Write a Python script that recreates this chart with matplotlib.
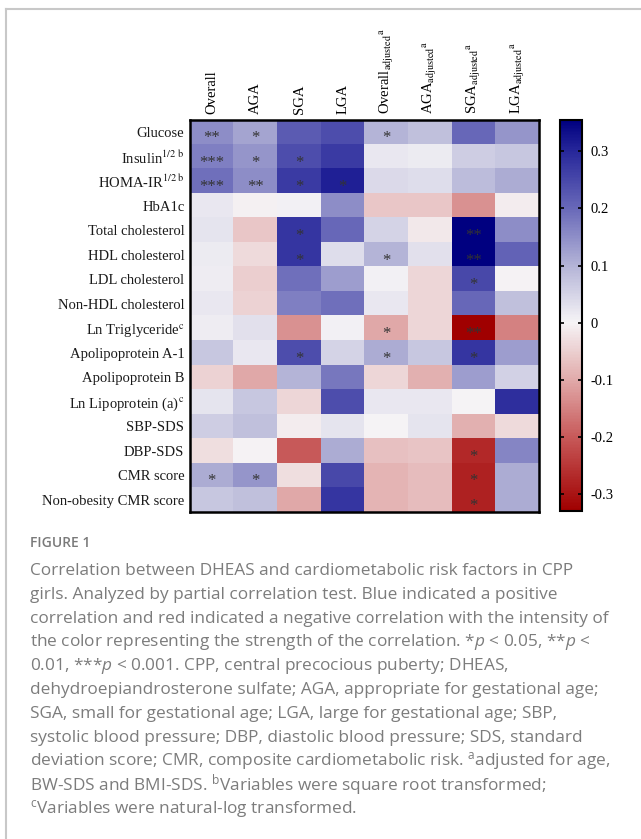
import numpy as np
import matplotlib.pyplot as plt
from matplotlib.colors import LinearSegmentedColormap, Normalize
from matplotlib.lines import Line2D

plt.rcParams['font.family'] = ['Liberation Serif', 'DejaVu Serif']
plt.rcParams['axes.unicode_minus'] = False
plt.rcParams['mathtext.fontset'] = 'custom'
plt.rcParams['mathtext.rm'] = 'Open Sans'
plt.rcParams['mathtext.it'] = 'Open Sans:italic'

rows = ['Glucose', r'Insulin$^{\mathrm{1/2\ b}}$', r'HOMA-IR$^{\mathrm{1/2\ b}}$', 'HbA1c',
        'Total cholesterol', 'HDL cholesterol', 'LDL cholesterol', 'Non-HDL cholesterol',
        r'Ln Triglyceride$^{\mathrm{c}}$', 'Apolipoprotein A-1', 'Apolipoprotein B',
        r'Ln Lipoprotein (a)$^{\mathrm{c}}$', 'SBP-SDS', 'DBP-SDS', 'CMR score',
        'Non-obesity CMR score']
groups = ['Overall', 'AGA', 'SGA', 'LGA']

# partial correlation coefficients, one list per column
overall = [0.15, 0.17, 0.19, 0.02, 0.025, 0.015, 0.01, 0.02, 0.01, 0.07, -0.045, 0.025, 0.06, -0.03, 0.11, 0.07]
aga = [0.12, 0.14, 0.15, -0.005, -0.06, -0.035, -0.05, -0.045, 0.03, 0.02, -0.1, 0.07, 0.08, -0.003, 0.14, 0.08]
sga = [0.22, 0.24, 0.27, 0.005, 0.28, 0.28, 0.19, 0.17, -0.13, 0.24, 0.1, -0.04, -0.01, -0.2, -0.03, -0.1]
lga = [0.24, 0.27, 0.31, 0.15, 0.2, 0.035, 0.13, 0.19, 0.005, 0.05, 0.18, 0.24, 0.025, 0.11, 0.25, 0.28]
overall_adj = [0.1, 0.02, 0.04, -0.06, 0.05, 0.1, 0.005, 0.02, -0.1, 0.11, -0.04, 0.02, 0.0, -0.07, -0.085, -0.085]
aga_adj = [0.08, 0.015, 0.035, -0.06, -0.015, 0.03, -0.04, -0.04, -0.04, 0.07, -0.09, 0.02, 0.025, -0.065, -0.075, -0.075]
sga_adj = [0.2, 0.06, 0.085, -0.13, 0.355, 0.355, 0.25, 0.2, -0.33, 0.28, 0.13, 0.0, -0.09, -0.27, -0.28, -0.28]
lga_adj = [0.14, 0.07, 0.11, -0.01, 0.15, 0.21, -0.003, 0.08, -0.15, 0.13, 0.055, 0.29, -0.035, 0.16, 0.11, 0.11]

# significance marks
overall_sig = ['**', '***', '***', '', '', '', '', '', '', '', '', '', '', '', '*', '']
aga_sig = ['*', '*', '**', '', '', '', '', '', '', '', '', '', '', '', '*', '']
sga_sig = ['', '*', '*', '', '*', '*', '', '', '', '*', '', '', '', '', '', '']
lga_sig = ['', '', '*', '', '', '', '', '', '', '', '', '', '', '', '', '']
overall_adj_sig = ['*', '', '', '', '', '*', '', '', '*', '*', '', '', '', '', '', '']
aga_adj_sig = [''] * 16
sga_adj_sig = ['', '', '', '', '**', '**', '*', '', '**', '*', '', '', '', '*', '*', '*']
lga_adj_sig = [''] * 16

cb_ticks = [-0.3, -0.2, -0.1, 0, 0.1, 0.2, 0.3]
cb_ticklabels = ['-0.3', '-0.2', '-0.1', '0', '0.1', '0.2', '0.3']

caption_lines = [
    'Correlation between DHEAS and cardiometabolic risk factors in CPP',
    'girls. Analyzed by partial correlation test. Blue indicated a positive',
    'correlation and red indicated a negative correlation with the intensity of',
    'the color representing the strength of the correlation. *$p$ < 0.05, **$p$ <',
    '0.01, ***$p$ < 0.001. CPP, central precocious puberty; DHEAS,',
    'dehydroepiandrosterone sulfate; AGA, appropriate for gestational age;',
    'SGA, small for gestational age; LGA, large for gestational age; SBP,',
    'systolic blood pressure; DBP, diastolic blood pressure; SDS, standard',
    'deviation score; CMR, composite cardiometabolic risk. ${}^{\\mathrm{a}}$adjusted for age,',
    'BW-SDS and BMI-SDS. ${}^{\\mathrm{b}}$Variables were square root transformed;',
    '${}^{\\mathrm{c}}$Variables were natural-log transformed.',
]

data = np.array([overall, aga, sga, lga, overall_adj, aga_adj, sga_adj, lga_adj]).T
sig = np.array([overall_sig, aga_sig, sga_sig, lga_sig,
                overall_adj_sig, aga_adj_sig, sga_adj_sig, lga_adj_sig]).T
cols = groups + [g + r'$_{\mathrm{adjusted}}{}^{\mathrm{a}}$' for g in groups]

vmin, vmax = -0.33, 0.355
stops = [(-0.33, '#a00000'), (-0.2, '#c85a5a'), (-0.1, '#e1aaaa'), (0.0, '#f6f4f6'),
         (0.1, '#b4b4d7'), (0.2, '#6969b9'), (0.3, '#28289b'), (0.355, '#000080')]
cmap = LinearSegmentedColormap.from_list(
    'rb', [((v - vmin) / (vmax - vmin), c) for v, c in stops])
norm = Normalize(vmin=vmin, vmax=vmax)

W, H = 641, 839
fig = plt.figure(figsize=(W / 100, H / 100), dpi=100)

ax = fig.add_axes([190 / W, 1 - 512 / H, 349 / W, 392 / H])
im = ax.imshow(data, cmap=cmap, norm=norm, aspect='auto', interpolation='nearest')
for s in ax.spines.values():
    s.set_linewidth(1.8)
ax.xaxis.tick_top()
ax.set_xticks(range(len(cols)))
ax.set_xticklabels(cols, rotation=90, fontsize=10.5, math_fontfamily='stix')
ax.set_yticks(range(len(rows)))
ax.set_yticklabels(rows, fontsize=10.5, math_fontfamily='stix', color='#1a1a1a')
ax.tick_params(length=0, pad=4)

for i in range(data.shape[0]):
    for j in range(data.shape[1]):
        if sig[i, j]:
            ax.text(j, i + 0.24, sig[i, j], ha='center', va='center',
                    fontsize=12, color='#333333')

cax = fig.add_axes([560 / W, 1 - 511 / H, 22 / W, 391 / H])
cb = fig.colorbar(im, cax=cax)
cb.outline.set_linewidth(1.5)
cb.set_ticks(cb_ticks)
cb.set_ticklabels(cb_ticklabels)
cax.tick_params(direction='in', left=True, right=True, length=3, width=1.2,
                labelsize=10.5, pad=6)

# card border
fig.add_artist(Line2D([6 / W, 1], [1 - 9 / H] * 2, transform=fig.transFigure,
                      color='#c8c8c8', lw=1.5))
fig.add_artist(Line2D([6 / W] * 2, [0, 1 - 9 / H], transform=fig.transFigure,
                      color='#c8c8c8', lw=1.5))

fig.text(30 / W, 1 - 543 / H, 'FIGURE 1', family='Open Sans', weight='semibold',
         fontsize=10, color='#7a7a7a', va='center')
for k, line in enumerate(caption_lines):
    fig.text(30 / W, 1 - (571 + 23.8 * k) / H, line, family='Open Sans',
             fontsize=12.4, color='#7c7c7c', va='center')

fig.savefig('out.png', dpi=100)
